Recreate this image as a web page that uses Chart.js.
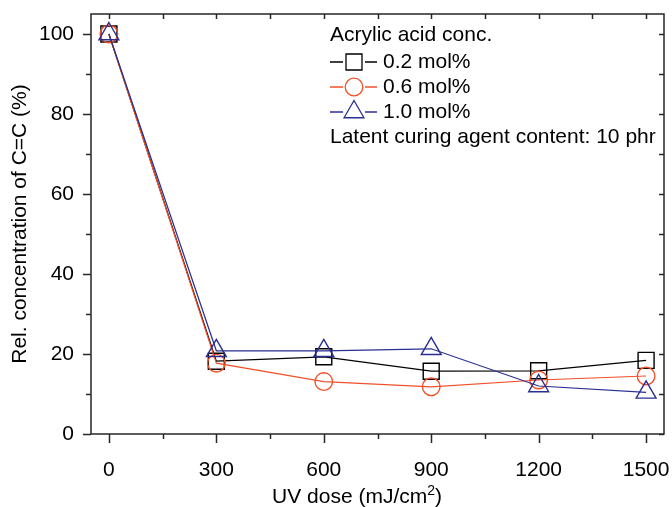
<!DOCTYPE html>
<html>
<head>
<meta charset="utf-8">
<script src="https://cdn.jsdelivr.net/npm/chart.js@4/dist/chart.umd.min.js"></script>
<style>
  html, body { margin: 0; padding: 0; background: #fff; }
  #wrap { width: 672px; height: 507px; }
</style>
</head>
<body>
<div id="wrap"><canvas id="chart" width="672" height="507"></canvas></div>
<script>
// Data
const doses = [0, 300, 600, 900, 1200, 1500];
const conc02 = [100, 18.2, 19.3, 15.7, 15.8, 18.4];
const conc06 = [100, 17.7, 13.1, 11.8, 13.5, 14.5];
const conc10 = [100, 20.8, 20.8, 21.3, 12.0, 10.4];
const seriesLabels = ['0.2 mol%', '0.6 mol%', '1.0 mol%'];
const xTicks = [0, 300, 600, 900, 1200, 1500];
const xMinorTicks = [150, 450, 750, 1050, 1350];
const yTicks = [0, 20, 40, 60, 80, 100];
const yMinorTicks = [10, 30, 50, 70, 90];
const legendTitle = 'Acrylic acid conc.';
const legendNote = 'Latent curing agent content: 10 phr';
const xTitle = ['UV dose (mJ/cm', '2', ')'];
const yTitle = 'Rel. concentration of C=C (%)';

const FONT = '"Liberation Sans", Arial, sans-serif';
const BLACK = '#000000';
const RED = '#f0502a';
const BLUE = '#2b2f8f';

const toPoints = vals => doses.map((d, i) => ({ x: d, y: vals[i] }));

// draw a hollow marker like the chart ones (used for the legend)
const drawMarker = (ctx, style, r, x, y) => {
    ctx.beginPath();
    if (style === 'rect') {
        const s = Math.SQRT1_2 * r;
        ctx.rect(x - s, y - s, 2 * s, 2 * s);
    } else if (style === 'triangle') {
        ctx.moveTo(x, y - r);
        ctx.lineTo(x + r * Math.sin(Math.PI / 3), y + r / 2);
        ctx.lineTo(x - r * Math.sin(Math.PI / 3), y + r / 2);
        ctx.closePath();
    } else {
        ctx.arc(x, y, r, 0, Math.PI * 2);
    }
    ctx.stroke();
};

// frame with inward ticks on top/right and outward ticks bottom/left
const framePlugin = {
    id: 'frame',
    afterDatasetsDraw(chart) {
        const { ctx, chartArea: a, scales: { x, y } } = chart;
        const seg = (x1, y1, x2, y2) => {
            ctx.beginPath();
            ctx.moveTo(x1, y1);
            ctx.lineTo(x2, y2);
            ctx.stroke();
        };
        ctx.save();
        ctx.strokeStyle = '#262626';
        ctx.lineWidth = 1.5;
        ctx.strokeRect(a.left, a.top, a.right - a.left, a.bottom - a.top);
        xTicks.forEach(v => {
            const px = Math.round(x.getPixelForValue(v)) + 0.5;
            seg(px, a.bottom, px, a.bottom + 9);
            seg(px, a.top, px, a.top + 5);
        });
        xMinorTicks.forEach(v => {
            const px = Math.round(x.getPixelForValue(v)) + 0.5;
            seg(px, a.bottom, px, a.bottom + 5);
            seg(px, a.top, px, a.top + 5);
        });
        yTicks.forEach(v => {
            const py = Math.round(y.getPixelForValue(v)) + 0.5;
            seg(a.left - 8, py, a.left, py);
            seg(a.right - 5, py, a.right, py);
        });
        yMinorTicks.forEach(v => {
            const py = Math.round(y.getPixelForValue(v)) + 0.5;
            seg(a.left - 5, py, a.left, py);
            seg(a.right - 5, py, a.right, py);
        });

        // x axis title with superscript
        ctx.fillStyle = '#000';
        ctx.textBaseline = 'alphabetic';
        ctx.font = '21px ' + FONT;
        const w1 = ctx.measureText(xTitle[0]).width;
        ctx.font = '14px ' + FONT;
        const w2 = ctx.measureText(xTitle[1]).width;
        ctx.font = '21px ' + FONT;
        const w3 = ctx.measureText(xTitle[2]).width;
        let tx = 357 - (w1 + w2 + w3) / 2;
        const base = 503;
        ctx.fillText(xTitle[0], tx, base);
        tx += w1;
        ctx.font = '14px ' + FONT;
        ctx.fillText(xTitle[1], tx, base - 8);
        tx += w2;
        ctx.font = '21px ' + FONT;
        ctx.fillText(xTitle[2], tx, base);
        ctx.restore();
    }
};

// legend block in the upper right
const legendPlugin = {
    id: 'customLegend',
    afterDraw(chart) {
        const { ctx } = chart;
        ctx.save();
        ctx.font = '21px ' + FONT;
        ctx.fillStyle = '#000';
        ctx.textBaseline = 'middle';
        ctx.fillText(legendTitle, 330, 35);
        chart.data.datasets.forEach((ds, i) => {
            const cy = 62 + i * 25;
            ctx.strokeStyle = ds.borderColor;
            ctx.lineWidth = 1.3;
            ctx.beginPath();
            ctx.moveTo(330, cy);
            ctx.lineTo(377, cy);
            ctx.stroke();
            ctx.fillStyle = '#fff';
            ctx.beginPath();
            ctx.rect(354 - 11, cy - 9, 22, 18);
            ctx.fill();
            drawMarker(ctx, ds.pointStyle, ds.pointRadius, 354, cy);
            ctx.fillStyle = '#000';
            ctx.fillText(ds.label, 383, cy);
        });
        ctx.fillText(legendNote, 330, 137);
        ctx.restore();
    }
};

const makeSeries = (label, vals, color, style, radius, order) => ({
    label: label,
    data: toPoints(vals),
    order: order,
    borderColor: color,
    backgroundColor: 'rgba(0,0,0,0)',
    borderWidth: 1.2,
    pointStyle: style,
    pointRadius: radius,
    pointBorderWidth: 1.4,
    pointBorderColor: color,
    pointBackgroundColor: 'rgba(0,0,0,0)',
    tension: 0,
    clip: false
});

const noPad = s => {
    s.paddingLeft = 0;
    s.paddingRight = 0;
    s.paddingTop = 0;
    s.paddingBottom = 0;
};

new Chart(document.getElementById('chart'), {
    type: 'line',
    data: {
        datasets: [
            makeSeries(seriesLabels[0], conc02, BLACK, 'rect', 11.3, 2),
            makeSeries(seriesLabels[1], conc06, RED, 'circle', 8.8, 1),
            makeSeries(seriesLabels[2], conc10, BLUE, 'triangle', 11.5, 0)
        ]
    },
    options: {
        responsive: false,
        animation: false,
        layout: { autoPadding: false, padding: { top: 14, right: 8, left: 0, bottom: 0 } },
        plugins: {
            legend: { display: false },
            tooltip: { enabled: false }
        },
        scales: {
            x: {
                type: 'linear',
                min: -50,
                max: 1550,
                afterBuildTicks: s => { s.ticks = xTicks.map(v => ({ value: v })); },
                afterFit: s => { s.height = 73; noPad(s); },
                grid: { display: false },
                border: { display: false },
                ticks: {
                    color: '#000',
                    padding: 16,
                    maxRotation: 0,
                    callback: v => String(v),
                    font: { size: 21, family: FONT }
                }
            },
            y: {
                min: 0,
                max: 105,
                afterBuildTicks: s => { s.ticks = yTicks.map(v => ({ value: v })); },
                afterFit: s => { s.width = 91; noPad(s); },
                grid: { display: false },
                border: { display: false },
                ticks: {
                    color: '#000',
                    padding: 9,
                    callback: v => String(v),
                    font: { size: 21, family: FONT }
                },
                title: {
                    display: true,
                    text: yTitle,
                    color: '#000',
                    padding: { top: 8, bottom: 0 },
                    font: { size: 21, family: FONT }
                }
            }
        }
    },
    plugins: [framePlugin, legendPlugin]
});
</script>
</body>
</html>
